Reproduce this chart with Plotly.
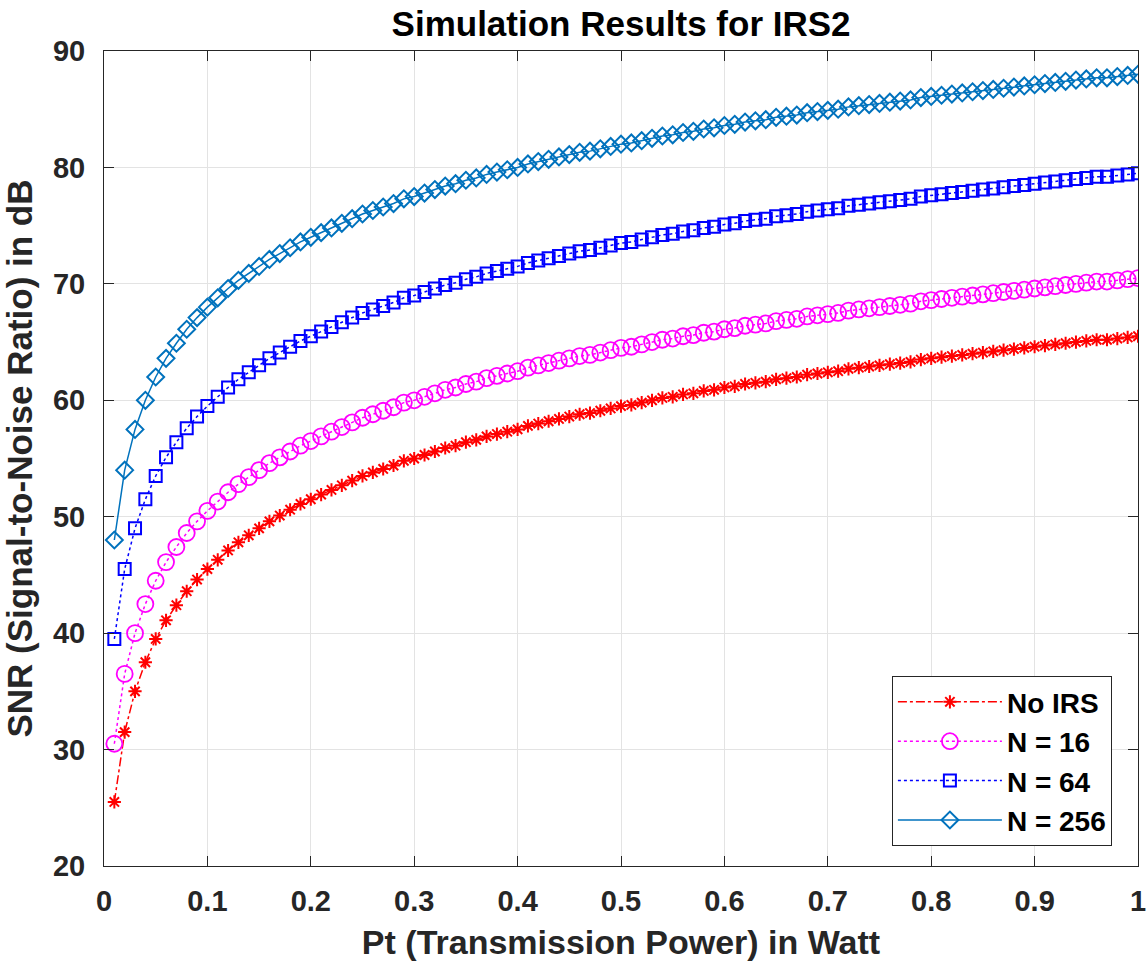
import plotly.graph_objects as go

pt = [0.01, 0.02, 0.03, 0.04, 0.05, 0.06, 0.07, 0.08, 0.09, 0.10,
      0.11, 0.12, 0.13, 0.14, 0.15, 0.16, 0.17, 0.18, 0.19, 0.20,
      0.21, 0.22, 0.23, 0.24, 0.25, 0.26, 0.27, 0.28, 0.29, 0.30,
      0.31, 0.32, 0.33, 0.34, 0.35, 0.36, 0.37, 0.38, 0.39, 0.40,
      0.41, 0.42, 0.43, 0.44, 0.45, 0.46, 0.47, 0.48, 0.49, 0.50,
      0.51, 0.52, 0.53, 0.54, 0.55, 0.56, 0.57, 0.58, 0.59, 0.60,
      0.61, 0.62, 0.63, 0.64, 0.65, 0.66, 0.67, 0.68, 0.69, 0.70,
      0.71, 0.72, 0.73, 0.74, 0.75, 0.76, 0.77, 0.78, 0.79, 0.80,
      0.81, 0.82, 0.83, 0.84, 0.85, 0.86, 0.87, 0.88, 0.89, 0.90,
      0.91, 0.92, 0.93, 0.94, 0.95, 0.96, 0.97, 0.98, 0.99, 1.00]

snr_no_irs = [25.5, 31.5, 35.0, 37.5, 39.5, 41.1, 42.4, 43.6, 44.6, 45.5,
              46.3, 47.1, 47.8, 48.4, 49.0, 49.6, 50.1, 50.6, 51.1, 51.5,
              51.9, 52.3, 52.7, 53.1, 53.5, 53.8, 54.1, 54.4, 54.8, 55.0,
              55.3, 55.6, 55.9, 56.1, 56.4, 56.6, 56.9, 57.1, 57.3, 57.5,
              57.8, 58.0, 58.2, 58.4, 58.6, 58.8, 58.9, 59.1, 59.3, 59.5,
              59.6, 59.8, 60.0, 60.2, 60.3, 60.5, 60.6, 60.8, 60.9, 61.1,
              61.2, 61.4, 61.5, 61.6, 61.8, 61.9, 62.0, 62.2, 62.3, 62.4,
              62.5, 62.7, 62.8, 62.9, 63.0, 63.1, 63.2, 63.3, 63.5, 63.6,
              63.7, 63.8, 63.9, 64.0, 64.1, 64.2, 64.3, 64.4, 64.5, 64.6,
              64.7, 64.8, 64.9, 65.0, 65.1, 65.2, 65.2, 65.3, 65.4, 65.5]

snr_n16 = [30.5, 36.5, 40.0, 42.5, 44.5, 46.1, 47.4, 48.6, 49.6, 50.5,
           51.3, 52.1, 52.8, 53.4, 54.0, 54.6, 55.1, 55.6, 56.1, 56.5,
           56.9, 57.3, 57.7, 58.1, 58.5, 58.8, 59.1, 59.4, 59.8, 60.0,
           60.3, 60.6, 60.9, 61.1, 61.4, 61.6, 61.9, 62.1, 62.3, 62.5,
           62.8, 63.0, 63.2, 63.4, 63.6, 63.8, 63.9, 64.1, 64.3, 64.5,
           64.6, 64.8, 65.0, 65.2, 65.3, 65.5, 65.6, 65.8, 65.9, 66.1,
           66.2, 66.4, 66.5, 66.6, 66.8, 66.9, 67.0, 67.2, 67.3, 67.4,
           67.5, 67.7, 67.8, 67.9, 68.0, 68.1, 68.2, 68.3, 68.5, 68.6,
           68.7, 68.8, 68.9, 69.0, 69.1, 69.2, 69.3, 69.4, 69.5, 69.6,
           69.7, 69.8, 69.9, 70.0, 70.1, 70.2, 70.2, 70.3, 70.4, 70.5]

snr_n64 = [39.5, 45.5, 49.0, 51.5, 53.5, 55.1, 56.4, 57.6, 58.6, 59.5,
           60.3, 61.1, 61.8, 62.4, 63.0, 63.6, 64.1, 64.6, 65.1, 65.5,
           65.9, 66.3, 66.7, 67.1, 67.5, 67.8, 68.1, 68.4, 68.8, 69.0,
           69.3, 69.6, 69.9, 70.1, 70.4, 70.6, 70.9, 71.1, 71.3, 71.5,
           71.8, 72.0, 72.2, 72.4, 72.6, 72.8, 72.9, 73.1, 73.3, 73.5,
           73.6, 73.8, 74.0, 74.2, 74.3, 74.5, 74.6, 74.8, 74.9, 75.1,
           75.2, 75.4, 75.5, 75.6, 75.8, 75.9, 76.0, 76.2, 76.3, 76.4,
           76.5, 76.7, 76.8, 76.9, 77.0, 77.1, 77.2, 77.3, 77.5, 77.6,
           77.7, 77.8, 77.9, 78.0, 78.1, 78.2, 78.3, 78.4, 78.5, 78.6,
           78.7, 78.8, 78.9, 79.0, 79.1, 79.2, 79.2, 79.3, 79.4, 79.5]

snr_n256 = [48.0, 54.0, 57.5, 60.0, 62.0, 63.6, 64.9, 66.1, 67.1, 68.0,
            68.8, 69.6, 70.3, 70.9, 71.5, 72.1, 72.6, 73.1, 73.6, 74.0,
            74.4, 74.8, 75.2, 75.6, 76.0, 76.3, 76.6, 76.9, 77.3, 77.5,
            77.8, 78.1, 78.4, 78.6, 78.9, 79.1, 79.4, 79.6, 79.8, 80.0,
            80.3, 80.5, 80.7, 80.9, 81.1, 81.3, 81.4, 81.6, 81.8, 82.0,
            82.1, 82.3, 82.5, 82.7, 82.8, 83.0, 83.1, 83.3, 83.4, 83.6,
            83.7, 83.9, 84.0, 84.1, 84.3, 84.4, 84.5, 84.7, 84.8, 84.9,
            85.0, 85.2, 85.3, 85.4, 85.5, 85.6, 85.7, 85.8, 86.0, 86.1,
            86.2, 86.3, 86.4, 86.5, 86.6, 86.7, 86.8, 86.9, 87.0, 87.1,
            87.2, 87.3, 87.4, 87.5, 87.6, 87.7, 87.7, 87.8, 87.9, 88.0]

series_names = ["No IRS", "N = 16", "N = 64", "N = 256"]
x_ticks = [0, 0.1, 0.2, 0.3, 0.4, 0.5, 0.6, 0.7, 0.8, 0.9, 1]
x_tick_labels = ["0", "0.1", "0.2", "0.3", "0.4", "0.5", "0.6", "0.7", "0.8", "0.9", "1"]
y_ticks = [20, 30, 40, 50, 60, 70, 80, 90]

FONT = "Liberation Sans, Arial, sans-serif"
AX = "#262626"

fig = go.Figure()
fig.add_trace(go.Scatter(
    x=pt, y=snr_no_irs, name=series_names[0], mode="lines+markers",
    line=dict(color="#FF0000", width=1.5, dash="dashdot"),
    marker=dict(symbol="asterisk-open", size=11, color="#FF0000",
                line=dict(color="#FF0000", width=2)),
    legendgroup="a"))
fig.add_trace(go.Scatter(
    x=pt, y=snr_n16, name=series_names[1], mode="lines+markers",
    line=dict(color="#FF00FF", width=1.5, dash="dot"),
    marker=dict(symbol="circle-open", size=16, color="#FF00FF",
                line=dict(color="#FF00FF", width=1.8)),
    legendgroup="b"))
fig.add_trace(go.Scatter(
    x=pt, y=snr_n64, name=series_names[2], mode="lines+markers",
    line=dict(color="#0000FF", width=1.5, dash="dot"),
    marker=dict(symbol="square-open", size=12, color="#0000FF",
                line=dict(color="#0000FF", width=2)),
    legendgroup="c"))
fig.add_trace(go.Scatter(
    x=pt, y=snr_n256, name=series_names[3], mode="lines+markers",
    line=dict(color="#0072BD", width=1.5),
    marker=dict(symbol="diamond-open", size=13, color="#0072BD",
                line=dict(color="#0072BD", width=2)),
    legendgroup="d"))

axis_common = dict(
    showline=True, linecolor=AX, linewidth=1, mirror="ticks",
    ticks="inside", ticklen=10, tickcolor=AX, tickwidth=1,
    showgrid=True, gridcolor="#E3E3E3", gridwidth=1, zeroline=False,
    automargin=False,
    tickfont=dict(family=FONT, size=29, color=AX, weight="bold"),
)

fig.update_layout(
    width=1148, height=963,
    margin=dict(l=104, r=10, t=51, b=97),
    paper_bgcolor="white", plot_bgcolor="white",
    title=dict(text="Simulation Results for IRS2", x=0.541, xanchor="center",
               y=1 - 24 / 963, yanchor="middle", yref="container",
               font=dict(family=FONT, size=35, color="black", weight="bold")),
    xaxis=dict(range=[0, 1], tickvals=x_ticks, ticktext=x_tick_labels,
               ticklabelstandoff=9,
               title=dict(text="Pt (Transmission Power) in Watt", standoff=14,
                          font=dict(family=FONT, size=34, color=AX, weight="bold")),
               **axis_common),
    yaxis=dict(range=[20, 90], tickvals=y_ticks,
               ticklabelstandoff=12,
               title=dict(text="SNR (Signal-to-Noise Ratio) in dB", standoff=12,
                          font=dict(family=FONT, size=35, color=AX, weight="bold")),
               **axis_common),
    legend=dict(x=0.762, y=0.233, xanchor="left", yanchor="top",
                bgcolor="white", bordercolor=AX, borderwidth=1,
                font=dict(family=FONT, size=28, color="black", weight="bold"),
                itemwidth=104, tracegroupgap=0),
    showlegend=True,
)

fig.write_html("out.html")
